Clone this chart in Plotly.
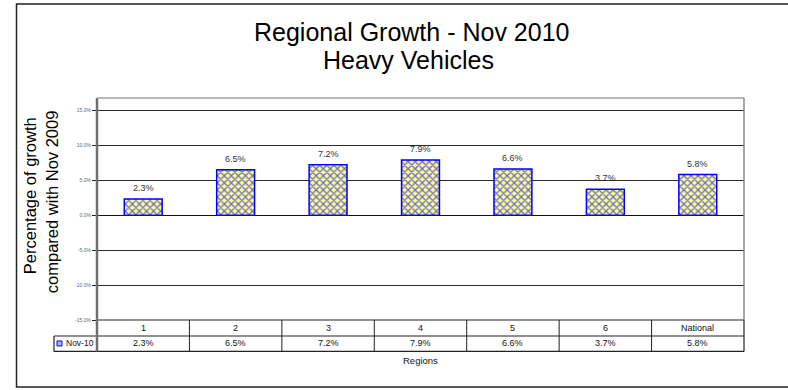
import plotly.graph_objects as go

# Regional growth of heavy vehicles, Nov 2010 vs Nov 2009 (percent)
regions = ["1", "2", "3", "4", "5", "6", "National"]
growth = [2.3, 6.5, 7.2, 7.9, 6.6, 3.7, 5.8]
series_name = "Nov-10"
y_ticks = [-15, -10, -5, 0, 5, 10, 15]

W, H = 788, 390
L, R, T, B = 97, 744, 97.7, 320   # plot area in pixels
Y_MIN, Y_MAX = -15, 16.76

FONT = "Liberation Sans, Arial, sans-serif"


def pxx(px):
    return (px - L) / (R - L)


def pxy(py):
    return (B - py) / (B - T)


def note(x, y, text, size, xref="paper", yref="paper", color="#111111", **kw):
    d = dict(x=x, y=y, xref=xref, yref=yref, text=text, showarrow=False,
             xanchor="center", yanchor="middle",
             font=dict(family=FONT, size=size, color=color))
    d.update(kw)
    return d


xs = list(range(len(regions)))

fig = go.Figure()
fig.add_trace(go.Bar(
    x=xs, y=growth, name=series_name,
    width=0.41,
    marker=dict(
        color="#FFFF99",
        line=dict(color="#0000FF", width=1.5),
        pattern=dict(shape="x", fgcolor="#6A6AD0", bgcolor="#FFFF8C",
                     size=5, solidity=0.45, fillmode="replace"),
    ),
    showlegend=False,
))

annotations = []
shapes = []

# value labels above the bars
for x, v in zip(xs, growth):
    annotations.append(note(x, v, f"{v:.1f}%", 9, xref="x", yref="y",
                            color="#333333", yanchor="bottom", yshift=4))

# data table under the plot: category row + value row
row1_mid, row2_mid = 328, 343.5
row_top, row_mid, row_bot = 320, 336, 351.5
leg_left = 54
for x, name, v in zip(xs, regions, growth):
    annotations.append(note(x, pxy(row1_mid), name, 9, xref="x"))
    annotations.append(note(x, pxy(row2_mid), f"{v:.1f}%", 9, xref="x"))
for x in xs[:-1]:
    shapes.append(dict(type="line", xref="x", yref="paper", x0=x + 0.5, x1=x + 0.5,
                       y0=pxy(row_top), y1=pxy(row_bot), line=dict(color="#222222", width=1)))
# right edge of the table
shapes.append(dict(type="line", xref="paper", yref="paper", x0=1, x1=1,
                   y0=pxy(row_top), y1=pxy(row_bot), line=dict(color="#222222", width=1.2)))
# horizontal table rules
for py, x0 in [(row_top, 0), (row_mid, pxx(leg_left)), (row_bot, pxx(leg_left))]:
    shapes.append(dict(type="line", xref="paper", yref="paper", x0=x0, x1=1,
                       y0=pxy(py), y1=pxy(py), line=dict(color="#222222", width=1.2)))
# legend cell left edge
shapes.append(dict(type="line", xref="paper", yref="paper", x0=pxx(leg_left), x1=pxx(leg_left),
                   y0=pxy(row_mid), y1=pxy(row_bot), line=dict(color="#222222", width=1.2)))
# y-axis line continued through the table
shapes.append(dict(type="line", xref="paper", yref="paper", x0=0, x1=0,
                   y0=1, y1=pxy(row_bot), line=dict(color="#6E6E6E", width=2.5)))
# plot area frame (top and right)
shapes.append(dict(type="line", xref="paper", yref="paper", x0=0, x1=1, y0=1, y1=1,
                   line=dict(color="#A0A0A0", width=1.5)))
shapes.append(dict(type="line", xref="paper", yref="paper", x0=1, x1=1, y0=0, y1=1,
                   line=dict(color="#8A8A8A", width=1.5)))
# legend key in the table
shapes.append(dict(type="rect", xref="paper", yref="paper",
                   x0=pxx(57), x1=pxx(62), y0=pxy(346), y1=pxy(341),
                   fillcolor="#B8B8C8", line=dict(color="#0000FF", width=1)))
annotations.append(note(pxx(64), pxy(row2_mid), series_name, 8.5, xanchor="left"))

# outer chart border
shapes.append(dict(type="rect", xref="paper", yref="paper",
                   x0=pxx(16.5), x1=pxx(800), y0=pxy(387), y1=pxy(3.5),
                   line=dict(color="#222222", width=1.5), fillcolor="rgba(0,0,0,0)"))

# titles
annotations.append(note(pxx(411), pxy(31.5), "Regional Growth - Nov 2010", 25, color="#000000"))
annotations.append(note(pxx(408), pxy(60), "Heavy Vehicles", 25, color="#000000"))
annotations.append(note(pxx(30), pxy(196), "Percentage of growth", 16.5,
                        color="#000000", textangle=-90))
annotations.append(note(pxx(52), pxy(202), "compared with Nov 2009", 16.5,
                        color="#000000", textangle=-90))
annotations.append(note(pxx(420.5), pxy(361), "Regions", 9.5))

fig.update_layout(
    width=W, height=H,
    margin=dict(l=L, r=W - R, t=T, b=H - B, pad=0),
    paper_bgcolor="white", plot_bgcolor="white",
    bargap=0.59,
    xaxis=dict(range=[-0.5, len(regions) - 0.5], showticklabels=False, showgrid=False,
               zeroline=False, showline=False, ticks=""),
    yaxis=dict(range=[Y_MIN, Y_MAX], tickvals=y_ticks,
               ticktext=[f"{v:.1f}%" for v in y_ticks],
               tickfont=dict(family=FONT, size=5, color="#666666"),
               ticks="outside", ticklen=4, tickcolor="#222222", tickwidth=1,
               showgrid=True, gridcolor="#2A2A2A", gridwidth=1,
               zeroline=True, zerolinecolor="#111111", zerolinewidth=1.2,
               showline=False),
    shapes=shapes,
    annotations=annotations,
    showlegend=False,
)

fig.write_html("out.html")
